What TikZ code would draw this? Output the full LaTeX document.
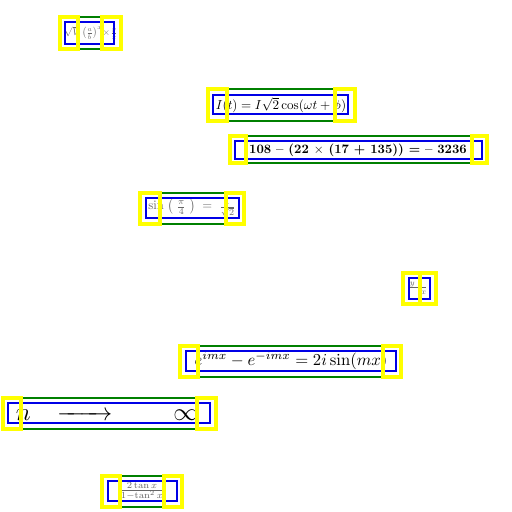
\documentclass[tikz,border=0pt]{standalone}
\usepackage{amssymb,amsmath}
\usepackage{tikz}
\definecolor{boxgreen}{RGB}{0,128,0}
\definecolor{boxblue}{RGB}{0,0,230}
\definecolor{boxyellow}{RGB}{255,255,0}
\tikzset{
  x=0.75pt, y=-0.75pt,
  greenline/.style={draw=boxgreen, line width=1.6pt},
  blueline/.style={draw=boxblue, line width=2pt},
  yellowline/.style={draw=boxyellow, line width=3pt},
  formula/.style={inner sep=0pt, text=black},
  faint/.style={formula, text=black!60}
}
\begin{document}
\begin{tikzpicture}
 \path[use as bounding box] (0,0) rectangle (512,512);

\node[faint, scale=0.72] (formulaA) at (91,33) {$\sqrt{V}\,\bigl(\frac{a}{b}\bigr)^{x}\!\times\!\frac{y}{x}$};
\node[formula, scale=0.98] (formulaB) at (281,105) {$I(t)=I\sqrt{2}\cos(\omega t+\phi)$};
\node[formula, scale=0.96] (formulaC) at (358,150) {\textbf{108 -- (22 $\times$ (17 + 135)) = -- 3236}};
\node[faint, scale=0.95] (formulaD) at (192,208) {$\sin\;\bigl(\;\frac{\pi}{4}\;\bigr)\;=\;\frac{1}{\sqrt{2}}$};
\node[faint, scale=0.85] (formulaE) at (418,288) {$\frac{y\quad}{\quad x}$};
\node[formula, scale=1.25] (formulaF) at (291,361) {$e^{imx}-e^{-imx}=2i\sin(mx)$};
\node[formula, scale=1.85] (formulaG) at (107,412) {$n\hspace{8pt}\xrightarrow{\hspace{16pt}}\hspace{22pt}\infty$};
\node[faint, scale=1] (formulaH) at (142,491) {$\frac{2\tan x}{1-\tan^{2}x}$};

% green top and bottom, between the yellow ends
\foreach \xa/\xb/\ya/\yb in {78/101/17/49, 227/334/89/121, 246/471/136/163, 161/225/193/224,
    199/382/346/377, 22/196/398/429, 121/163/476/507}{
	\draw[greenline] (\xa,\ya) -- (\xb,\ya);
	\draw[greenline] (\xa,\yb) -- (\xb,\yb);
}

\foreach \xa/\ya/\xb/\yb in {65/22/114/44, 213/95/348/114, 235/141/482/159, 146/198/239/218,
    409/278/430/299, 186/351/396/371, 8/403/210/423, 108/481/177/501}
	\draw[blueline] (\xa,\ya) rectangle (\xb,\yb);

\foreach \xa/\xb/\xc/\xd/\ya/\yb in {60/78/102/121/17/49, 208/227/335/355/89/121, 230/246/472/487/136/163,
    140/160/226/244/193/224, 403/420/420/436/273/304, 180/198/383/401/346/377,
    3/21/197/216/398/429, 102/120/164/182/476/507}{
	\draw[yellowline] (\xa,\ya) rectangle (\xb,\yb);
	\draw[yellowline] (\xc,\ya) rectangle (\xd,\yb);
}

\end{tikzpicture}
\end{document}
